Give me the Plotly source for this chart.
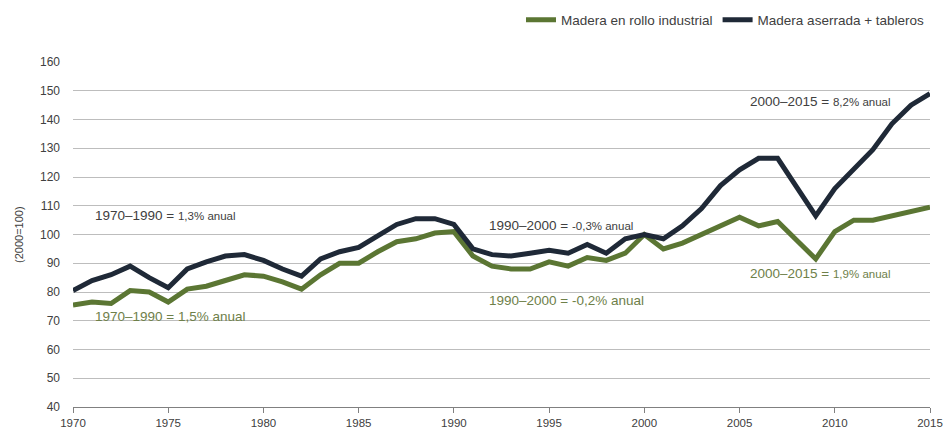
import plotly.graph_objects as go

years = list(range(1970, 2016))

roundwood = [75.5, 76.5, 76, 80.5, 80, 76.5, 81, 82, 84, 86,
             85.5, 83.5, 81, 86, 90, 90, 94, 97.5, 98.5, 100.5,
             101, 92.5, 89, 88, 88, 90.5, 89, 92, 91, 93.5,
             100, 95, 97, 100, 103, 106, 103, 104.5, 98, 91.5,
             101, 105, 105, 106.5, 108, 109.5]

sawn_panels = [80.5, 84, 86, 89, 85, 81.5, 88, 90.5, 92.5, 93,
               91, 88, 85.5, 91.5, 94, 95.5, 99.5, 103.5, 105.5, 105.5,
               103.5, 95, 93, 92.5, 93.5, 94.5, 93.5, 96.5, 93.5, 98.5,
               100, 98.5, 103, 109, 117, 122.5, 126.5, 126.5, 116.5, 106.5,
               116, 123, 129.5, 138.5, 145, 149]

series_names = ["Madera en rollo industrial", "Madera aserrada + tableros"]
x_ticks = list(range(1970, 2016, 5))
y_ticks = list(range(40, 161, 10))

GREEN = "#5b7633"
DARK = "#1f2937"
GREEN_TXT = "#6e8049"
DARK_TXT = "#404040"
FONT = "Liberation Sans Narrow, Arial Narrow, Liberation Sans, Arial, sans-serif"

fig = go.Figure()
fig.add_trace(go.Scatter(x=years, y=roundwood, mode="lines", name=series_names[0],
                         line=dict(color=GREEN, width=5)))
fig.add_trace(go.Scatter(x=years, y=sawn_panels, mode="lines", name=series_names[1],
                         line=dict(color=DARK, width=5)))

annots = [
    (1971.05, 106.6, "1970–1990 = <span style='font-size:11.5px'>1,3% anual</span>", DARK_TXT),
    (1971.05, 71.6, "1970–1990 = 1,5% anual", GREEN_TXT),
    (1991.75, 103.3, "1990–2000 = <span style='font-size:11.5px'>-0,3% anual</span>", DARK_TXT),
    (1991.75, 76.9, "1990–2000 = -0,2% anual", GREEN_TXT),
    (2005.45, 146.1, "2000–2015 = <span style='font-size:11.5px'>8,2% anual</span>", DARK_TXT),
    (2005.45, 86.3, "2000–2015 = <span style='font-size:11.5px'>1,9% anual</span>", GREEN_TXT),
]
for x, y, t, c in annots:
    fig.add_annotation(x=x, y=y, text=t, showarrow=False, xanchor="left", yanchor="middle",
                       font=dict(family=FONT, size=13.5, color=c))

W, H = 945, 432
L, R, T, B = 73, 15, 62, 25
PW = W - L - R

fig.add_annotation(x=(19 - L) / PW, y=0.4986, xref="paper", yref="paper", text="(2000=100)",
                   textangle=-90, showarrow=False, xanchor="center", yanchor="middle",
                   font=dict(family=FONT, size=11, color="#404040"))

fig.update_layout(
    width=W, height=H,
    margin=dict(l=L, r=R, t=T, b=B, autoexpand=False),
    paper_bgcolor="white", plot_bgcolor="white",
    font=dict(family=FONT, size=12, color="#404040"),
    showlegend=True,
    legend=dict(orientation="h", x=930 / W, xanchor="right", xref="container",
                y=1 - 20 / H, yanchor="middle", yref="container",
                font=dict(family=FONT, size=13.5, color="#404040"),
                itemwidth=30, tracegroupgap=0),
    xaxis=dict(range=[1970, 2015], tickvals=x_ticks, showgrid=False,
               showline=True, linecolor="#808080", linewidth=1,
               ticks="outside", ticklen=5, tickcolor="#808080",
               ticklabeloverflow="allow",
               tickfont=dict(size=11.5, color="#404040"), zeroline=False),
    yaxis=dict(range=[40, 160], tickvals=y_ticks, showgrid=True,
               gridcolor="#bdbdbd", gridwidth=1, zeroline=False, showline=False,
               ticks="", ticklabelstandoff=12,
               tickfont=dict(size=12, color="#404040")),
)

fig.write_html("out.html",
               config={"displayModeBar": False},
               post_script="document.body.style.margin='0';"
                           "document.documentElement.style.overflow='hidden';"
                           "document.body.style.overflow='hidden';")
